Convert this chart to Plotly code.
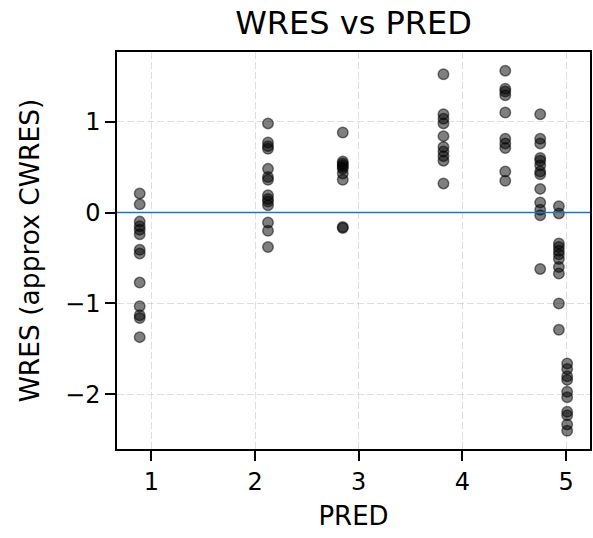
import plotly.graph_objects as go

# PRED levels (x) and WRES values observed at each level
pred_levels = [0.888, 2.125, 2.846, 3.817, 4.413, 4.75, 4.93, 5.01]
wres_g1 = [0.21, 0.09, -0.10, -0.15, -0.19, -0.24, -0.41, -0.45, -0.77, -1.03, -1.13, -1.16, -1.37]
wres_g2 = [0.98, 0.77, 0.73, 0.70, 0.48, 0.39, 0.36, 0.19, 0.15, 0.12, 0.08, -0.11, -0.20, -0.38]
wres_g3 = [0.88, 0.56, 0.54, 0.52, 0.50, 0.48, 0.43, 0.36, -0.16, -0.17]
wres_g4 = [1.52, 1.08, 1.03, 0.98, 0.84, 0.72, 0.67, 0.62, 0.57, 0.32]
wres_g5 = [1.56, 1.36, 1.33, 1.29, 1.10, 0.81, 0.76, 0.71, 0.45, 0.35]
wres_g6 = [1.08, 0.81, 0.76, 0.60, 0.57, 0.52, 0.45, 0.42, 0.26, 0.11, 0.03, -0.03, -0.62]
wres_g7 = [0.07, -0.01, -0.34, -0.38, -0.42, -0.46, -0.51, -0.60, -0.67, -1.00, -1.29]
wres_g8 = [-1.66, -1.72, -1.80, -1.84, -1.97, -2.03, -2.19, -2.23, -2.33, -2.40]
wres_groups = [wres_g1, wres_g2, wres_g3, wres_g4, wres_g5, wres_g6, wres_g7, wres_g8]

x_ticks = [1, 2, 3, 4, 5]
x_ticklabels = ["1", "2", "3", "4", "5"]
y_ticks = [-2, -1, 0, 1]
y_ticklabels = ["−2", "−1", "0", "1"]

xs, ys = [], []
for p, grp in zip(pred_levels, wres_groups):
    for w in grp:
        xs.append(p)
        ys.append(w)

FONT = "DejaVu Sans"

fig = go.Figure()
fig.add_trace(go.Scatter(
    x=xs, y=ys, mode="markers",
    marker=dict(size=10.5, color="rgba(0,0,0,0.5)",
                line=dict(color="rgba(0,0,0,0.5)", width=1.5)),
    showlegend=False, hoverinfo="x+y",
))
fig.add_hline(y=0, line=dict(color="#1f77b4", width=1.5), layer="above")

axis_common = dict(
    showline=True, linecolor="black", linewidth=1.5, mirror=True,
    ticks="outside", ticklen=10, tickwidth=1.5, tickcolor="black",
    showgrid=True, gridcolor="rgba(176,176,176,0.4)", gridwidth=1, griddash="7px,3px",
    zeroline=False,
    tickfont=dict(family=FONT, size=24, color="black"),
)

fig.update_layout(
    width=593, height=538,
    margin=dict(l=117, r=1, t=52, b=89),
    paper_bgcolor="white", plot_bgcolor="white",
    font=dict(family=FONT, color="black"),
    title=dict(text="WRES vs PRED", x=0.5, xref="paper", xanchor="center",
               y=1 - 23 / 538, yref="container", yanchor="middle",
               font=dict(family=FONT, size=32, color="black")),
    xaxis=dict(range=[0.669, 5.23], tickvals=x_ticks, ticktext=x_ticklabels,
               title=dict(text="PRED", font=dict(family=FONT, size=26, color="black"), standoff=12),
               **axis_common),
    yaxis=dict(range=[-2.60, 1.765], tickvals=y_ticks, ticktext=y_ticklabels,
               title=dict(text="WRES (approx CWRES)", font=dict(family=FONT, size=26.5, color="black"), standoff=18),
               **axis_common),
)

fig.write_html("out.html")
